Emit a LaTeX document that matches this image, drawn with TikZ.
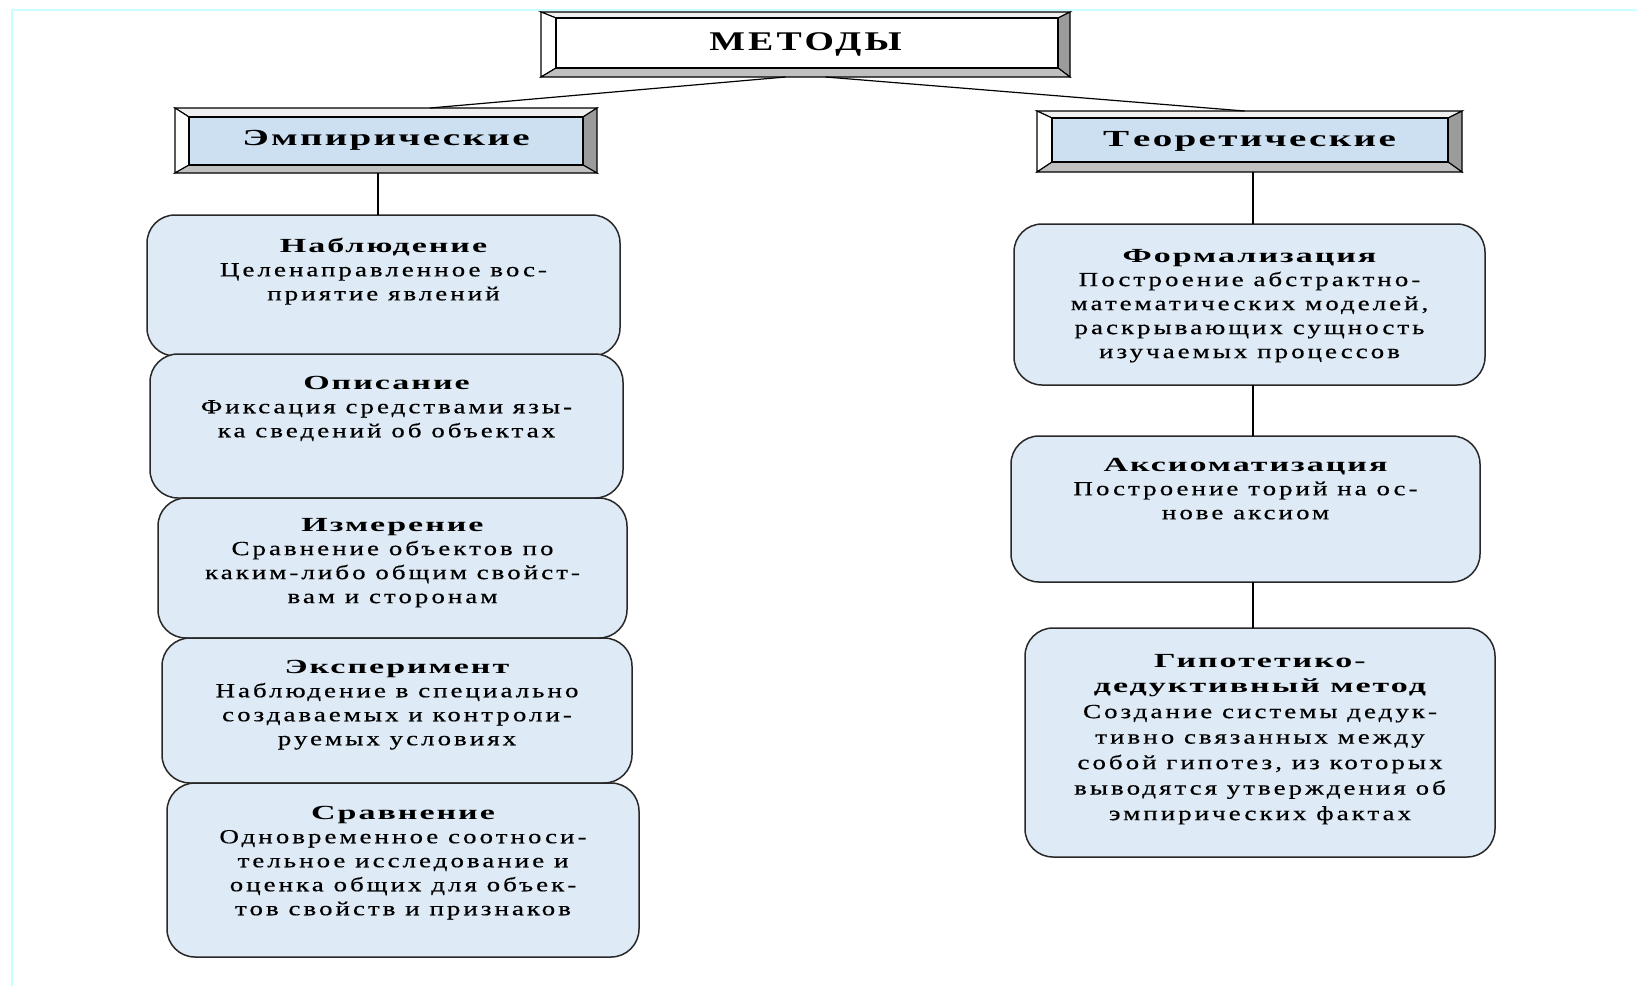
\documentclass[tikz,border=0pt]{standalone}
\usepackage{fontspec}
\setmainfont{Liberation Serif}
\newfontfamily\rfont[FakeStretch=1.35,LetterSpace=15,FakeBold=0.5]{Liberation Serif}
\newfontfamily\bfont[FakeStretch=1.7,LetterSpace=10]{Liberation Serif}
\newfontfamily\mfont[FakeStretch=1.4,LetterSpace=12]{Liberation Serif}
\usetikzlibrary{calc}
\pgfdeclarelayer{bg}
\pgfsetlayers{bg,main}
\definecolor{framecol}{RGB}{200,255,255}
\definecolor{boxfill}{RGB}{222,234,245}
\definecolor{hdrfill}{RGB}{204,224,242}
\definecolor{bevtop}{RGB}{240,240,240}
\definecolor{bevright}{RGB}{155,155,155}
\definecolor{bevbot}{RGB}{192,192,192}
\definecolor{edge}{RGB}{40,40,40}
% bevel around an outer node: #1 name, #2 left, #3 top, #4 right, #5 bottom, #6 inner fill
\newcommand\bevelaround[6]{%
  \coordinate (#1-i1) at ($(#1.north west)+(#2,#3)$);
  \coordinate (#1-i2) at ($(#1.north east)+(-#4,#3)$);
  \coordinate (#1-i3) at ($(#1.south east)+(-#4,-#5)$);
  \coordinate (#1-i4) at ($(#1.south west)+(#2,-#5)$);
  \begin{pgfonlayer}{bg}
    \draw[bevline,fill=bevtop] (#1.north west) -- (#1.north east) -- (#1-i2) -- (#1-i1) -- cycle;
    \draw[bevline,fill=white] (#1.north west) -- (#1-i1) -- (#1-i4) -- (#1.south west) -- cycle;
    \draw[bevline,fill=bevright] (#1.north east) -- (#1.south east) -- (#1-i3) -- (#1-i2) -- cycle;
    \draw[bevline,fill=bevbot] (#1.south west) -- (#1-i4) -- (#1-i3) -- (#1.south east) -- cycle;
    \draw[bevline,line width=1.6pt,fill=#6] (#1-i1) -- (#1-i2) -- (#1-i3) -- (#1-i4) -- cycle;
  \end{pgfonlayer}}
\tikzset{
  bevline/.style={draw=black,line width=1.1pt,line join=miter},
  outerbox/.style={draw=none,inner sep=0,outer sep=0,rectangle},
  rbox/.style={draw=edge,line width=1.5pt,fill=boxfill,rounded corners=28pt,inner sep=0,outer sep=0},
  txt/.style={inner sep=0,outer sep=0,align=center,anchor=north,text=black,
              font=\rfont\fontsize{20}{24}\selectfont},
  conn/.style={draw=black,line width=1.2pt}
}
\newcommand\ttlb[1]{{\bfont\bfseries #1}}
\begin{document}
\begin{tikzpicture}[x=1pt,y=-1pt]
\useasboundingbox (0,0) rectangle (1637,986);
% frame lines
\draw[framecol,line width=2.2pt] (12,986) -- (12,10) -- (1637,10);

% header boxes
\node[outerbox,minimum width=529pt,minimum height=65pt,
      font=\mfont\bfseries\fontsize{27}{30}\selectfont] (metody) at (805.5,44.5) {\raisebox{2pt}{МЕТОДЫ}};
\bevelaround{metody}{15}{6}{12}{9}{white}
\node[outerbox,minimum width=422pt,minimum height=65pt,
      font=\bfont\bfseries\fontsize{23}{26}\selectfont] (emp) at (386,140.5) {Эмпирические};
\bevelaround{emp}{14}{9}{14}{8}{hdrfill}
\node[outerbox,minimum width=425pt,minimum height=61pt,
      font=\bfont\bfseries\fontsize{23}{26}\selectfont] (teo) at (1249.5,141.5) {Т\hspace{4pt}еоретические};
\bevelaround{teo}{15}{7}{14}{10}{hdrfill}

% connectors from top
\draw[conn] ([xshift=-20pt]metody.south) -- ([xshift=44pt]emp.north);
\draw[conn] ([xshift=20pt]metody.south) -- ([xshift=-5pt]teo.north);

% left column boxes
\node[rbox,minimum width=473pt,minimum height=141pt] (b1) at (383.5,285.5) {};
\node[rbox,minimum width=473pt,minimum height=144pt] (b2) at (386.5,426) {};
\node[rbox,minimum width=469pt,minimum height=140pt] (b3) at (392.5,568) {};
\node[rbox,minimum width=470pt,minimum height=145pt] (b4) at (397,710.5) {};
\node[rbox,minimum width=472pt,minimum height=174pt] (b5) at (403,870) {};
% right column boxes
\node[rbox,minimum width=471pt,minimum height=161pt] (f1) at (1249.5,304.5) {};
\node[rbox,minimum width=469pt,minimum height=146pt] (f2) at (1245.5,509) {};
\node[rbox,minimum width=470pt,minimum height=229pt] (f3) at (1260,742.5) {};

% vertical connectors
\draw[conn] ([xshift=-8pt]emp.south) -- ([xshift=-8pt]emp.south |- b1.north);
\draw[conn] ([xshift=3.5pt]teo.south) -- ([xshift=3.5pt]teo.south |- f1.north);
\draw[conn] ([xshift=3.5pt]teo.south |- f1.south) -- ([xshift=3.5pt]teo.south |- f2.north);
\draw[conn] ([xshift=3.5pt]teo.south |- f2.south) -- ([xshift=3.5pt]teo.south |- f3.north);

% texts left
\node[txt] (t1) at (383.5,238) {\ttlb{Наблюдение}\\Целенаправленное вос-\\приятие явлений};
\node[txt] (t2) at (386.5,376) {\ttlb{Описание}\\Фиксация средствами язы-\\ка сведений об объектах};
\node[txt] (t3) at (392.5,518) {\ttlb{Измерение}\\Сравнение объектов по\\каким-либо общим свойст-\\вам и сторонам};
\node[txt] (t4) at (397,660) {\ttlb{Эксперимент}\\Наблюдение в специально\\создаваемых и контроли-\\руемых условиях};
\node[txt] (t5) at (403,806) {\ttlb{Сравнение}\\Одновременное соотноси-\\тельное исследование и\\оценка общих для объек-\\тов свойств и признаков};
% texts right
\node[txt] (s1) at (1249.5,249) {\ttlb{Формализация}\\Построение абстрактно-\\математических моделей,\\раскрывающих сущность\\изучаемых процессов};
\node[txt] (s2) at (1245.5,458) {\ttlb{Аксиоматизация}\\Построение торий на ос-\\нове аксиом};
\node[txt,font=\rfont\fontsize{20}{25.5}\selectfont] (s3) at (1260,654) {\ttlb{Гипотетико-}\\\ttlb{дедуктивный метод}\\Создание системы дедук-\\тивно связанных между\\собой гипотез, из которых\\выводятся утверждения об\\эмпирических фактах};
\end{tikzpicture}
\end{document}
